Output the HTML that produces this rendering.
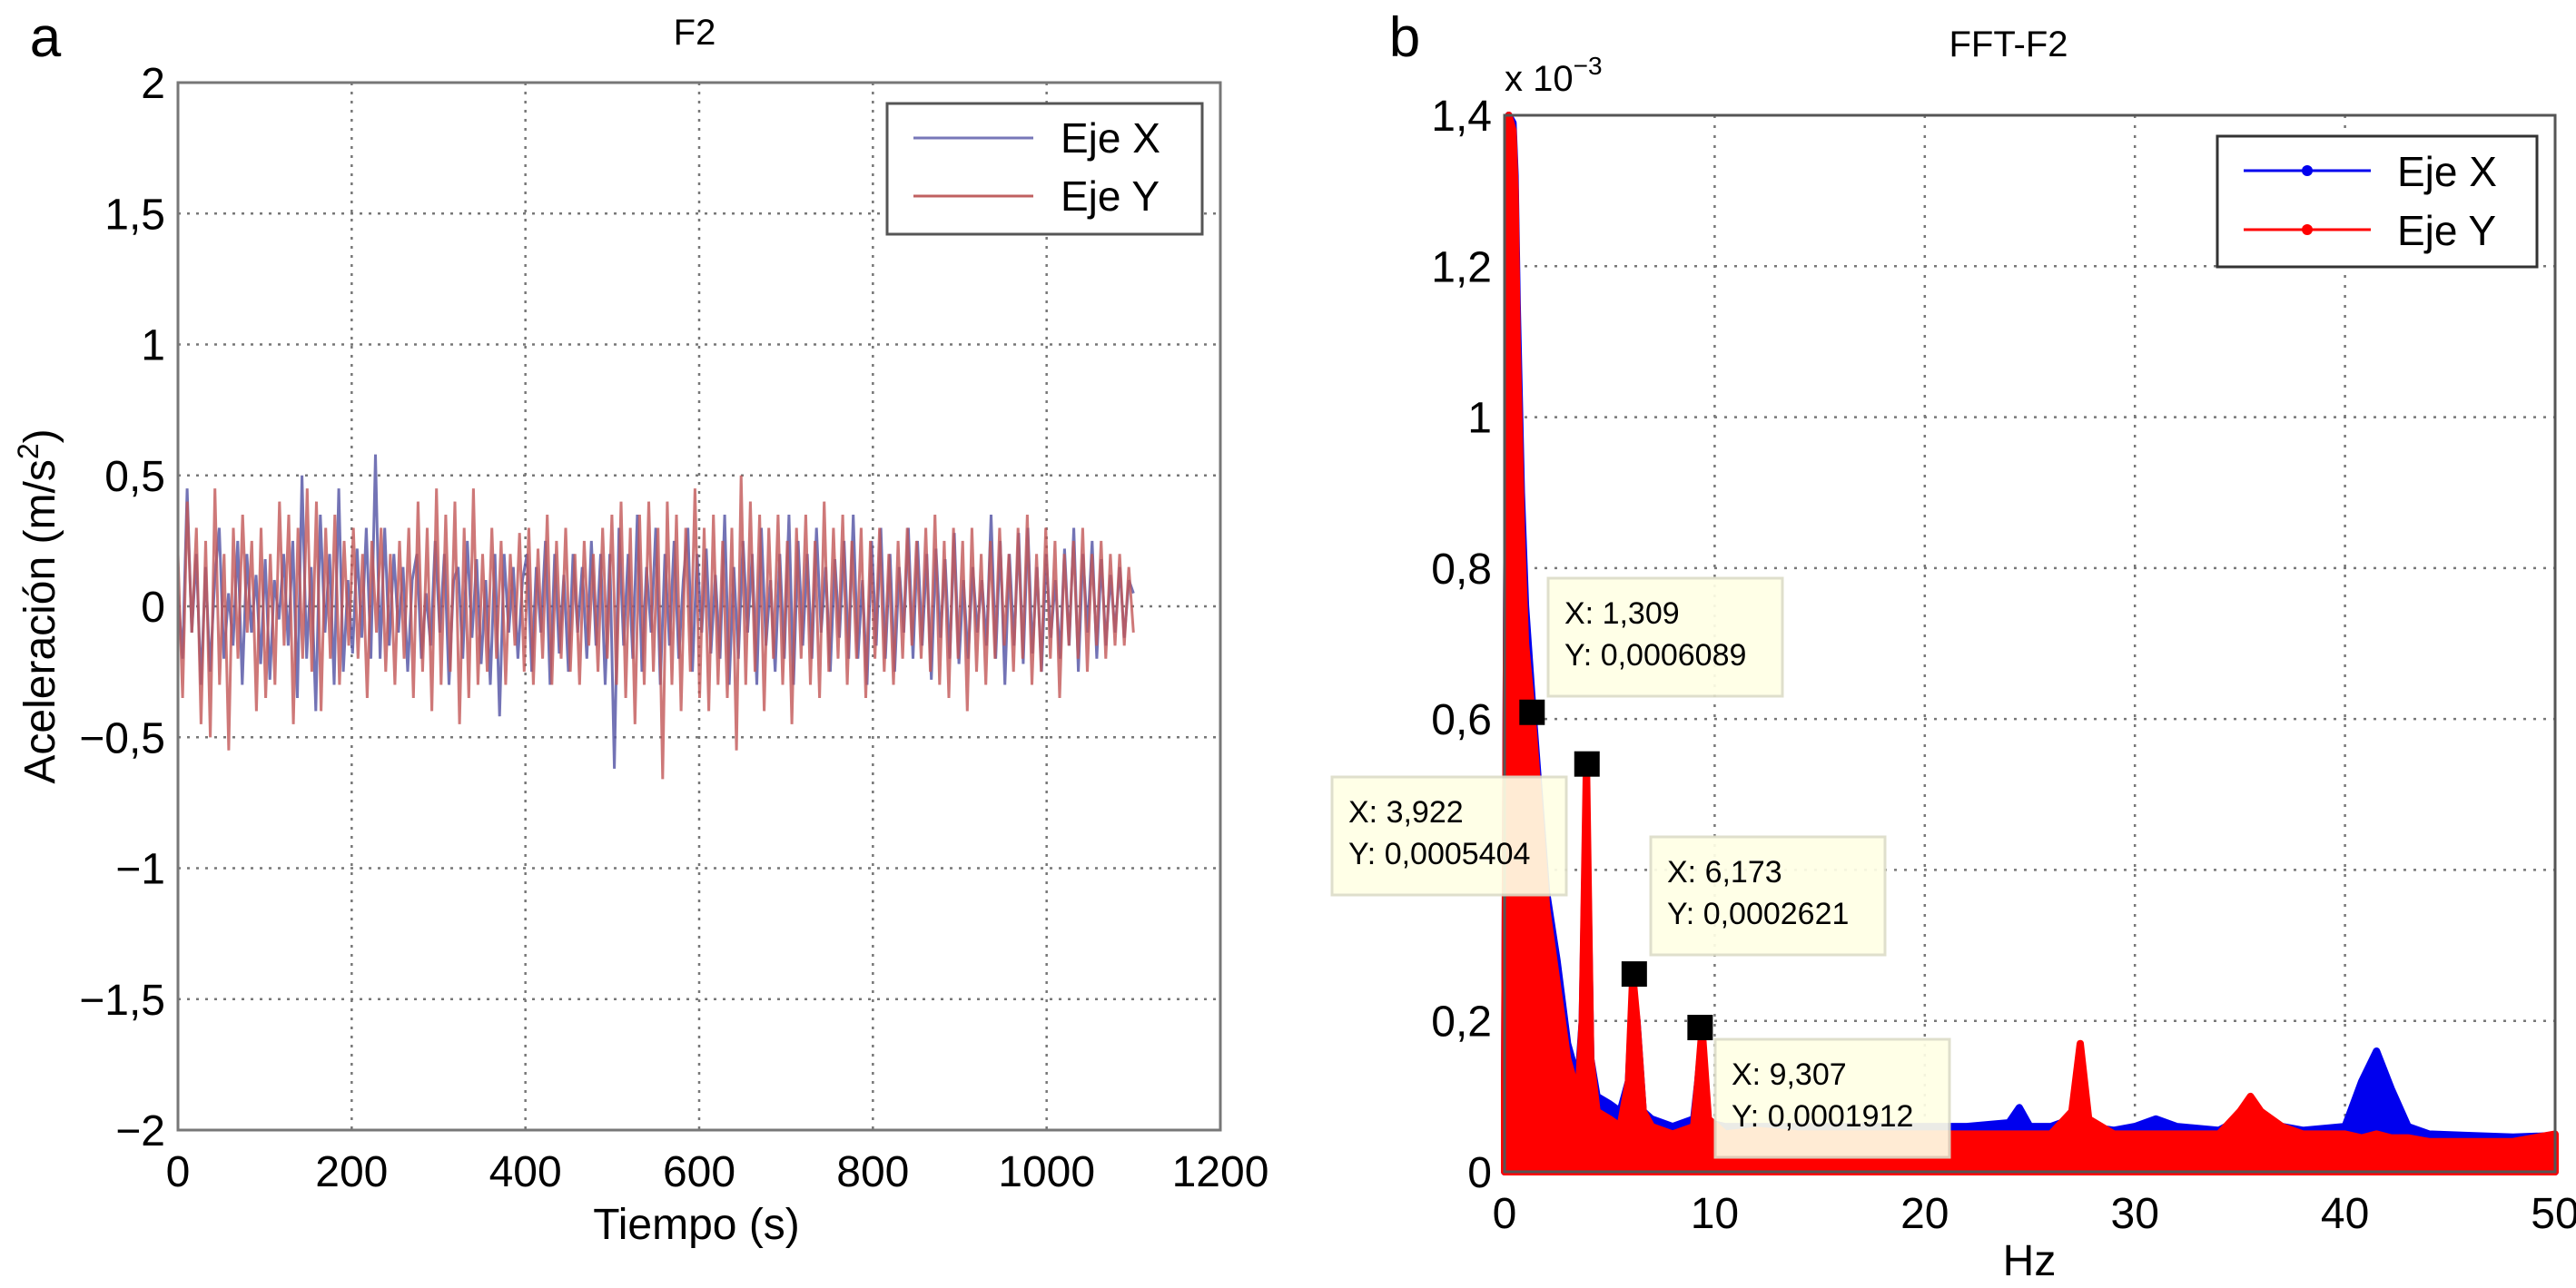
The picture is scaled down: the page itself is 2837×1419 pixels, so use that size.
<!DOCTYPE html>
<html><head><meta charset="utf-8"><style>
html,body{margin:0;padding:0;background:#fff;}
svg{display:block;font-family:"Liberation Sans",Arial,sans-serif;}
</style></head><body>
<svg id="fig" width="2837" height="1419" viewBox="0 0 2837 1419">
<g id="pa"></g>
<g id="pb"></g>
</svg>
<script>
// ---- Panel A data ----
const aXTicks = [0,200,400,600,800,1000,1200];
const aYTicks = [-2,-1.5,-1,-0.5,0,0.5,1,1.5,2];
const aYTickLabels = ["\u22122","\u22121,5","\u22121","\u22120,5","0","0,5","1","1,5","2"];
const aTimeEnd = 1100;
const aSeriesX = [0.05,-0.2,0.45,-0.1,0.2,-0.3,0.15,-0.25,0.1,0.3,-0.2,0.05,-0.15,0.25,-0.3,0.2,-0.1,0.12,-0.22,0.18,-0.28,0.1,-0.05,0.2,-0.15,0.25,-0.35,0.5,-0.2,0.15,-0.4,0.35,-0.1,0.2,-0.3,0.45,-0.25,0.1,-0.18,0.22,-0.12,0.3,-0.2,0.58,-0.2,0.3,-0.15,0.2,-0.1,0.15,-0.25,0.1,0.2,-0.2,0.05,-0.15,0.25,-0.1,0.2,-0.3,0.1,0.15,-0.2,0.25,-0.12,0.18,-0.22,0.1,-0.3,0.2,-0.42,0.2,-0.1,0.15,-0.2,0.1,0.2,-0.25,0.15,-0.1,0.25,-0.3,0.2,-0.18,0.12,-0.25,0.2,-0.1,0.15,-0.2,0.25,-0.15,0.2,-0.3,0.2,-0.62,0.3,-0.15,0.2,-0.2,0.35,-0.25,0.15,-0.1,0.3,-0.3,0.2,-0.15,0.25,-0.2,0.1,0.3,-0.25,0.2,-0.1,0.22,-0.18,0.12,-0.2,0.35,-0.3,0.15,-0.2,0.25,-0.1,0.2,-0.3,0.3,-0.15,0.1,-0.25,0.2,-0.2,0.35,-0.3,0.25,-0.15,0.2,-0.2,0.3,-0.1,0.15,-0.25,0.18,-0.12,0.25,-0.2,0.35,-0.2,0.1,-0.3,0.25,-0.15,0.3,-0.2,0.2,-0.25,0.15,-0.1,0.3,-0.2,0.25,-0.15,0.2,-0.28,0.22,-0.12,0.18,-0.2,0.28,-0.22,0.1,-0.2,0.15,-0.1,0.1,-0.15,0.35,-0.2,0.25,-0.3,0.2,-0.15,0.28,-0.22,0.3,-0.18,0.15,-0.25,0.2,-0.12,0.1,-0.2,0.22,-0.15,0.3,-0.25,0.2,-0.1,0.25,-0.2,0.18,-0.15,0.12,-0.1,0.15,-0.12,0.1,0.05];
const aSeriesY = [0.2,-0.35,0.4,-0.1,0.3,-0.45,0.25,-0.5,0.45,-0.3,0.2,-0.55,0.3,-0.2,0.35,-0.1,0.25,-0.4,0.3,-0.35,0.2,-0.3,0.4,-0.15,0.35,-0.45,0.3,-0.2,0.45,-0.25,0.4,-0.4,0.3,-0.2,0.35,-0.3,0.25,-0.15,0.3,-0.2,0.2,-0.35,0.25,-0.1,0.3,-0.25,0.2,-0.3,0.25,-0.2,0.3,-0.35,0.4,-0.25,0.3,-0.4,0.45,-0.3,0.35,-0.25,0.4,-0.45,0.3,-0.35,0.45,-0.3,0.2,-0.25,0.3,-0.2,0.25,-0.3,0.2,-0.15,0.28,-0.25,0.3,-0.3,0.22,-0.2,0.35,-0.3,0.25,-0.2,0.3,-0.25,0.2,-0.3,0.25,-0.15,0.2,-0.25,0.3,-0.2,0.35,-0.3,0.4,-0.35,0.3,-0.45,0.35,-0.3,0.4,-0.25,0.3,-0.66,0.4,-0.3,0.35,-0.4,0.3,-0.25,0.45,-0.35,0.3,-0.4,0.35,-0.3,0.25,-0.35,0.3,-0.55,0.5,-0.3,0.4,-0.25,0.35,-0.4,0.3,-0.2,0.35,-0.3,0.25,-0.45,0.3,-0.2,0.35,-0.3,0.25,-0.35,0.4,-0.25,0.3,-0.2,0.35,-0.3,0.25,-0.2,0.3,-0.35,0.25,-0.2,0.3,-0.25,0.2,-0.3,0.25,-0.2,0.3,-0.15,0.25,-0.2,0.3,-0.25,0.35,-0.3,0.25,-0.35,0.3,-0.2,0.25,-0.4,0.3,-0.25,0.2,-0.3,0.25,-0.2,0.3,-0.15,0.2,-0.25,0.3,-0.2,0.35,-0.3,0.2,-0.25,0.3,-0.2,0.25,-0.35,0.2,-0.15,0.25,-0.2,0.3,-0.25,0.2,-0.15,0.25,-0.2,0.2,-0.15,0.2,-0.15,0.15,-0.1];

// ---- Panel B data (values in 1e-3) ----
const bXTicks = [0,10,20,30,40,50];
const bYTicks = [0,0.2,0.4,0.6,0.8,1,1.2,1.4];
const bYTickLabels = ["0","0,2","","0,6","0,8","1","1,2","1,4"];
const bFreq = [0,0.2,0.4,0.5,0.6,0.8,1.0,1.3,1.6,2,2.5,3,3.5,3.7,3.9,4.1,4.4,5,5.5,5.9,6.1,6.3,6.6,7,8,9,9.2,9.4,9.7,10.5,12,14,16,18,20,22,24,24.5,25,26,27,27.4,27.8,29,30,31,32,34,35,35.5,36,37,38,40,40.8,41.5,42.2,43,44,46,48,50];
const bValY = [0.1,1.4,1.38,1.3,1.1,0.85,0.7,0.61,0.5,0.35,0.25,0.15,0.1,0.2,0.54,0.15,0.08,0.07,0.06,0.12,0.26,0.2,0.08,0.06,0.05,0.06,0.12,0.19,0.07,0.05,0.055,0.05,0.05,0.05,0.05,0.05,0.05,0.05,0.05,0.05,0.08,0.17,0.07,0.05,0.05,0.05,0.05,0.05,0.08,0.1,0.08,0.06,0.05,0.05,0.045,0.05,0.045,0.045,0.04,0.04,0.04,0.05];
const bValX = [0.1,1.4,1.39,1.32,1.15,0.9,0.75,0.63,0.52,0.37,0.28,0.17,0.12,0.2,0.5,0.15,0.1,0.09,0.08,0.12,0.24,0.2,0.08,0.07,0.06,0.07,0.12,0.18,0.065,0.06,0.06,0.06,0.06,0.06,0.06,0.06,0.065,0.085,0.06,0.06,0.07,0.15,0.06,0.055,0.06,0.07,0.06,0.055,0.07,0.09,0.07,0.06,0.055,0.06,0.12,0.16,0.11,0.06,0.05,0.048,0.046,0.048];
const bMarkers = [[1.309,0.6089],[3.922,0.5404],[6.173,0.2621],[9.307,0.1912]];
const bLabels = [["X: 1,309","Y: 0,0006089"],["X: 3,922","Y: 0,0005404"],["X: 6,173","Y: 0,0002621"],["X: 9,307","Y: 0,0001912"]];

const NS="http://www.w3.org/2000/svg";
function mk(parent,tag,attrs,text){const e=document.createElementNS(NS,tag);for(const k in attrs)e.setAttribute(k,attrs[k]);if(text!==undefined)e.textContent=text;parent.appendChild(e);return e;}

// ---- Panel A ----
(function(){
const g=document.getElementById('pa');
const L=196,R=1344,T=91,B=1245;
const sx=v=>L+(v-0)/(1200)*(R-L);
const sy=v=>B-(v+2)/4*(B-T);
let t=mk(g,'text',{x:50,y:62,'font-size':62,'text-anchor':'middle'},'a');

t=mk(g,'text',{x:765,y:49,'font-size':40,'text-anchor':'middle'},'F2');

aXTicks.forEach((v,i)=>{
  if(i>0&&i<aXTicks.length-1){const l=mk(g,'line',{x1:sx(v),x2:sx(v),y1:T,y2:B,stroke:'#777','stroke-width':2.5,'stroke-dasharray':'3 7'});}
  const tx=mk(g,'text',{x:sx(v),y:B+62,'font-size':48,'text-anchor':'middle'},String(v));
  
});
aYTicks.forEach((v,i)=>{
  if(i>0&&i<aYTicks.length-1){const l=mk(g,'line',{x1:L,x2:R,y1:sy(v),y2:sy(v),stroke:'#777','stroke-width':2.5,'stroke-dasharray':'3 7'});}
  const tx=mk(g,'text',{x:L-14,y:sy(v)+17,'font-size':48,'text-anchor':'end'},aYTickLabels[i]);
  
});
const toPts=(arr)=>arr.map((v,i)=>sx(i*aTimeEnd/(arr.length-1)).toFixed(1)+','+sy(v).toFixed(1)).join(' ');
let p=mk(g,'polyline',{points:toPts(aSeriesX),fill:'none',stroke:'#5a5aa8','stroke-width':3,opacity:0.85});

p=mk(g,'polyline',{points:toPts(aSeriesY),fill:'none',stroke:'#c25656','stroke-width':3,opacity:0.8});

let r=mk(g,'rect',{x:L,y:T,width:R-L,height:B-T,fill:'none',stroke:'#777','stroke-width':3});

const lg=mk(g,'g',{});
mk(lg,'rect',{x:977,y:114,width:347,height:144,fill:'#fff',stroke:'#555','stroke-width':3});
mk(lg,'line',{x1:1006,x2:1138,y1:152,y2:152,stroke:'#7777b8','stroke-width':3});
mk(lg,'line',{x1:1006,x2:1138,y1:216,y2:216,stroke:'#c06060','stroke-width':3});
t=mk(lg,'text',{x:1168,y:168,'font-size':46},'Eje X');
t=mk(lg,'text',{x:1168,y:232,'font-size':46},'Eje Y');
t=mk(g,'text',{x:767,y:1365,'font-size':48,'text-anchor':'middle'},'Tiempo (s)');

t=mk(g,'text',{transform:'translate(60,668) rotate(-90)','font-size':48,'text-anchor':'middle'});

t.innerHTML='Aceleración (m/s<tspan dy="-18" font-size="32">2</tspan><tspan dy="18">)</tspan>';
})();

// ---- Panel B ----
(function(){
const g=document.getElementById('pb');
const L=1657,R=2814,T=127,B=1291;
const sx=v=>L+v/50*(R-L);
const sy=v=>B-v/1.4*(B-T);
let t=mk(g,'text',{x:1547,y:62,'font-size':62,'text-anchor':'middle'},'b');

t=mk(g,'text',{x:2212,y:62,'font-size':40,'text-anchor':'middle'},'FFT-F2');

t=mk(g,'text',{x:1657,y:100,'font-size':40});

t.innerHTML='x 10<tspan dy="-18" font-size="28">\u22123</tspan>';
bXTicks.forEach((v,i)=>{
  if(i>0&&i<bXTicks.length-1){const l=mk(g,'line',{x1:sx(v),x2:sx(v),y1:T,y2:B,stroke:'#777','stroke-width':2.5,'stroke-dasharray':'3 8'});}
  const tx=mk(g,'text',{x:sx(v),y:B+62,'font-size':48,'text-anchor':'middle'},String(v));
  
});
bYTicks.forEach((v,i)=>{
  if(i>0&&i<bYTicks.length-1){const l=mk(g,'line',{x1:L,x2:R,y1:sy(v),y2:sy(v),stroke:'#777','stroke-width':2.5,'stroke-dasharray':'3 8'});}
  const tx=mk(g,'text',{x:L-14,y:sy(v)+17,'font-size':48,'text-anchor':'end'},bYTickLabels[i]);
  
});
const area=(f,vals)=>sx(f[0])+','+sy(0)+' '+f.map((x,i)=>sx(x).toFixed(1)+','+sy(vals[i]).toFixed(1)).join(' ')+' '+sx(f[f.length-1])+','+sy(0);
let p=mk(g,'polygon',{points:area(bFreq,bValX),fill:'#0000ee',stroke:'#0000ee','stroke-width':8,'stroke-linejoin':'round'});

p=mk(g,'polygon',{points:area(bFreq,bValY),fill:'#ff0000',stroke:'#ff0000','stroke-width':8,'stroke-linejoin':'round'});

let r=mk(g,'rect',{x:L,y:T,width:R-L,height:B-T,fill:'none',stroke:'#555','stroke-width':3});

const boxes=[[1705,637],[1467,856],[1818,922],[1889,1145]];
bMarkers.forEach((m,i)=>{
  const q=mk(g,'rect',{x:sx(m[0])-14,y:sy(m[1])-14,width:28,height:28,fill:'#000'});
  
  const bx=boxes[i];
  const bg=mk(g,'g',{});
  mk(bg,'rect',{x:bx[0],y:bx[1],width:258,height:130,fill:'#ffffe6',stroke:'#ddddc8','stroke-width':3,opacity:0.92});
  mk(bg,'text',{x:bx[0]+18,y:bx[1]+50,'font-size':34},bLabels[i][0]);
  mk(bg,'text',{x:bx[0]+18,y:bx[1]+96,'font-size':34},bLabels[i][1]);
});
const lg=mk(g,'g',{});
mk(lg,'rect',{x:2442,y:150,width:352,height:144,fill:'#fff',stroke:'#333','stroke-width':3});
mk(lg,'line',{x1:2471,x2:2611,y1:188,y2:188,stroke:'#0000ee','stroke-width':3});
mk(lg,'circle',{cx:2541,cy:188,r:6,fill:'#0000ee'});
mk(lg,'line',{x1:2471,x2:2611,y1:253,y2:253,stroke:'#ff0000','stroke-width':3});
mk(lg,'circle',{cx:2541,cy:253,r:6,fill:'#ff0000'});
t=mk(lg,'text',{x:2640,y:205,'font-size':46},'Eje X');
t=mk(lg,'text',{x:2640,y:270,'font-size':46},'Eje Y');
t=mk(g,'text',{x:2235,y:1405,'font-size':48,'text-anchor':'middle'},'Hz');

})();
</script>
</body></html>
